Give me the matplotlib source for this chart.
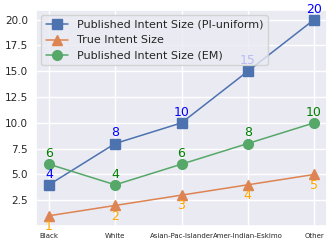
import matplotlib
matplotlib.use("Agg")
import matplotlib.pyplot as plt
import seaborn as sns

sns.set_theme(style="darkgrid")

categories = ["Black", "White", "Asian-Pac-Islander", "Amer-Indian-Eskimo", "Other"]
pi_uniform = [4, 8, 10, 15, 20]
true_size = [1, 2, 3, 4, 5]
em_size = [6, 4, 6, 8, 10]

fig, ax = plt.subplots(figsize=(3.3, 2.46), dpi=100)
x = range(len(categories))

ax.plot(x, pi_uniform, marker="s", markersize=6.5, linewidth=1.1, label="Published Intent Size (PI-uniform)")
ax.plot(x, true_size, marker="^", markersize=7, linewidth=1.1, label="True Intent Size")
ax.plot(x, em_size, marker="o", markersize=7, linewidth=1.1, label="Published Intent Size (EM)")

for i in x:
    ax.text(i, pi_uniform[i] + 0.4, str(pi_uniform[i]), color="blue", fontsize=9, ha="center", va="bottom")
    ax.text(i, true_size[i] - 0.4, str(true_size[i]), color="orange", fontsize=9, ha="center", va="top")
    ax.text(i, em_size[i] + 0.4, str(em_size[i]), color="green", fontsize=9, ha="center", va="bottom")

ax.set_xticks(list(x))
ax.set_xticklabels(categories, fontsize=5)
ax.tick_params(axis="y", labelsize=7.5, length=0, pad=5.5)
ax.tick_params(axis="x", length=0, pad=5)
leg = ax.legend(loc="upper left", fontsize=8)
leg.set_zorder(5)

fig.subplots_adjust(left=0.108, right=0.992, top=0.96, bottom=0.083)
fig.savefig("out.png")
